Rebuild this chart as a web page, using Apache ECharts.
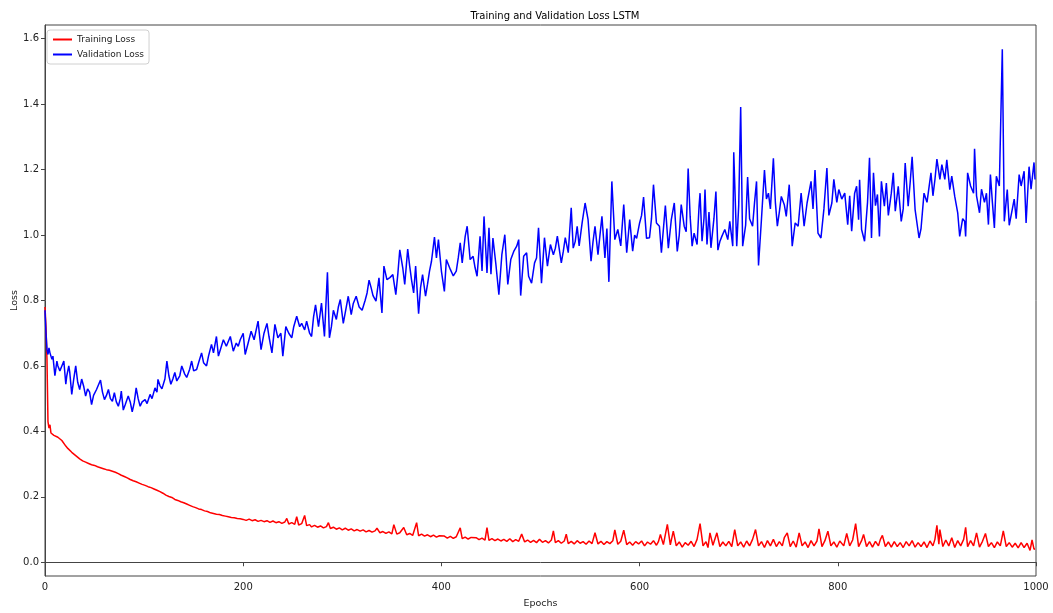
<!DOCTYPE html>
<html>
<head>
<meta charset="utf-8">
<script src="https://cdn.jsdelivr.net/npm/echarts@6/dist/echarts.min.js"></script>
<style>
  html, body { margin: 0; padding: 0; background: #fff; }
  #chart { width: 1053px; height: 613px; }
</style>
</head>
<body>
<div id="chart"></div>
<script>
// values (epoch, loss)
const trainEpochs = [0,1,2,3,4,5,6,7,9,11,13,15,17,19,21,23,25,27,29,31,33,35,38,41,44,47,50,53,56,59,62,65,68,71,74,77,80,83,86,89,92,95,98,101,104,107,110,113,116,119,122,125,128,131,134,137,140,143,146,149,152,155,158,161,164,167,170,173,176,179,182,185,188,191,194,197,
  200,203,206,209,212,215,218,221,224,227,230,233,236,239,242,244,246,249,252,254,256,259,262,264,267,269,272,275,278,281,284,286,288,291,294,297,300,303,306,309,312,315,318,321,324,327,330,333,335,338,341,344,347,350,352,355,358,360,362,365,368,371,375,377,380,383,386,389,392,395,398,
  400,403,406,409,412,415,419,421,424,427,430,432,435,438,441,444,446,448,451,454,457,460,463,466,469,472,475,478,481,484,487,490,493,496,499,502,505,508,511,513,515,518,521,524,526,528,531,534,537,540,543,546,549,552,555,558,561,564,567,570,573,575,578,581,584,587,590,593,596,599,
  602,605,608,611,614,617,619,621,624,626,628,631,634,637,640,643,646,649,652,655,658,661,664,667,669,671,674,678,681,684,687,690,693,696,699,702,705,708,711,714,717,720,723,726,729,732,735,738,741,744,746,749,752,755,758,761,764,767,770,773,776,779,781,784,787,790,793,796,799,
  802,806,809,812,815,818,821,824,826,829,832,835,838,841,843,845,848,851,854,857,860,863,866,869,872,875,878,881,884,887,890,893,896,898,900,902,903,906,909,912,915,918,921,924,927,929,931,934,937,940,943,946,949,952,955,958,961,964,967,970,973,976,979,982,985,988,991,994,996,998,999];
const trainLoss = [0.78,0.72,0.62,0.43,0.41,0.42,0.395,0.392,0.388,0.385,0.382,0.378,0.372,0.366,0.355,0.348,0.342,0.336,0.33,0.326,0.32,0.316,0.31,0.306,0.302,0.298,0.296,0.292,0.289,0.286,0.283,0.281,0.278,0.275,0.271,0.266,0.262,0.258,0.253,0.249,0.246,0.242,0.238,0.235,0.231,0.228,0.224,0.22,0.216,0.211,0.205,0.201,0.198,0.192,0.189,0.185,0.182,0.178,0.174,0.17,0.167,0.163,0.161,0.157,0.155,0.151,0.149,0.147,0.146,0.143,0.141,0.139,0.137,0.136,0.134,0.133,
  0.131,0.128,0.132,0.127,0.13,0.125,0.128,0.124,0.127,0.122,0.126,0.121,0.124,0.119,0.123,0.134,0.117,0.121,0.116,0.139,0.114,0.118,0.143,0.112,0.115,0.108,0.113,0.107,0.111,0.105,0.109,0.121,0.103,0.107,0.101,0.105,0.099,0.104,0.098,0.102,0.096,0.1,0.095,0.099,0.093,0.097,0.092,0.096,0.104,0.09,0.094,0.088,0.093,0.087,0.115,0.086,0.09,0.085,0.106,0.084,0.088,0.082,0.121,0.081,0.086,0.08,0.084,0.078,0.083,0.077,0.081,
  0.076,0.08,0.074,0.079,0.073,0.078,0.105,0.072,0.077,0.071,0.076,0.07,0.075,0.069,0.074,0.068,0.106,0.067,0.072,0.066,0.071,0.065,0.07,0.064,0.072,0.063,0.069,0.064,0.086,0.062,0.068,0.061,0.067,0.06,0.07,0.061,0.066,0.059,0.068,0.096,0.06,0.066,0.058,0.065,0.086,0.057,0.064,0.056,0.066,0.058,0.063,0.055,0.065,0.057,0.09,0.056,0.064,0.054,0.063,0.057,0.066,0.099,0.055,0.064,0.098,0.054,0.062,0.052,0.063,0.056,
  0.065,0.05,0.062,0.055,0.066,0.052,0.063,0.085,0.054,0.06,0.116,0.053,0.095,0.05,0.062,0.046,0.06,0.052,0.064,0.048,0.07,0.118,0.05,0.063,0.045,0.09,0.052,0.09,0.048,0.062,0.05,0.064,0.048,0.1,0.05,0.062,0.046,0.065,0.05,0.07,0.1,0.05,0.063,0.045,0.066,0.05,0.07,0.048,0.063,0.05,0.075,0.09,0.048,0.065,0.046,0.09,0.05,0.062,0.045,0.066,0.05,0.065,0.102,0.048,0.066,0.095,0.05,0.062,0.046,
  0.065,0.05,0.088,0.05,0.068,0.118,0.048,0.066,0.085,0.048,0.063,0.046,0.064,0.05,0.07,0.082,0.048,0.062,0.046,0.063,0.048,0.06,0.045,0.063,0.05,0.066,0.046,0.06,0.048,0.062,0.045,0.065,0.05,0.07,0.113,0.055,0.1,0.048,0.068,0.05,0.075,0.045,0.066,0.05,0.07,0.107,0.048,0.066,0.05,0.09,0.046,0.064,0.088,0.048,0.06,0.045,0.062,0.05,0.096,0.048,0.06,0.046,0.058,0.044,0.06,0.045,0.058,0.036,0.068,0.04,0.041];

const valEpochs = [0,1,2,3,4,5,7,8,10,12,13,15,17,19,21,22,24,25,27,29,31,33,35,37,39,41,43,45,47,49,52,54,56,58,60,62,64,66,68,70,72,74,76,77,79,81,83,84,86,88,90,92,94,96,98,101,103,106,108,111,113,114,116,118,121,123,125,127,129,131,133,136,138,141,143,146,148,150,153,155,158,160,163,165,168,170,173,175,178,180,183,187,190,193,195,197,
  200,202,205,208,211,215,218,221,224,226,229,232,235,238,240,243,246,249,251,254,257,259,262,264,267,269,271,273,276,279,282,285,287,289,291,294,296,298,301,304,306,309,311,314,317,320,323,325,327,329,331,334,337,340,342,345,348,351,354,356,358,361,363,366,368,370,372,374,377,379,381,384,386,388,390,393,395,397,
  400,403,405,407,409,412,415,417,419,421,424,426,429,432,434,436,439,441,443,446,448,450,452,455,458,461,464,467,470,473,476,478,480,483,486,488,491,494,496,498,501,504,507,510,513,515,517,521,523,525,528,531,533,535,537,539,542,545,548,551,553,555,558,560,562,565,567,569,572,575,578,581,584,587,590,593,595,597,
  600,602,604,607,610,612,614,617,620,622,626,629,632,635,638,640,642,645,647,649,651,653,655,658,660,661,663,665,666,668,670,672,675,677,679,681,683,686,689,691,694,695,698,700,702,704,707,709,711,714,716,718,720,723,726,728,730,732,735,737,739,741,743,746,748,751,754,757,760,763,766,769,773,775,777,780,783,786,789,791,794,796,799,
  801,804,807,810,812,814,817,819,821,822,824,827,830,832,834,836,838,840,842,844,847,849,851,854,856,858,861,864,866,868,871,873,875,878,882,884,887,890,894,896,898,900,903,905,908,910,913,915,918,921,923,926,928,929,931,934,937,938,940,943,945,948,950,952,954,956,958,960,963,966,968,971,973,976,978,980,983,985,988,990,993,995,998,999];
const valLoss = [0.77,0.70,0.65,0.635,0.655,0.64,0.62,0.63,0.57,0.615,0.60,0.585,0.60,0.615,0.544,0.57,0.60,0.58,0.513,0.56,0.60,0.55,0.528,0.56,0.538,0.508,0.53,0.52,0.482,0.51,0.528,0.53,0.557,0.52,0.497,0.51,0.528,0.50,0.492,0.518,0.49,0.477,0.50,0.523,0.465,0.482,0.50,0.508,0.49,0.46,0.487,0.533,0.50,0.477,0.49,0.497,0.485,0.513,0.50,0.533,0.52,0.559,0.54,0.53,0.56,0.615,0.57,0.544,0.56,0.58,0.554,0.57,0.60,0.575,0.565,0.59,0.615,0.585,0.589,0.61,0.64,0.61,0.60,0.63,0.666,0.64,0.69,0.63,0.66,0.68,0.66,0.69,0.645,0.67,0.66,0.68,
  0.70,0.635,0.67,0.706,0.68,0.737,0.65,0.70,0.73,0.69,0.64,0.727,0.686,0.70,0.63,0.72,0.70,0.686,0.72,0.752,0.72,0.73,0.71,0.737,0.70,0.69,0.75,0.787,0.72,0.792,0.69,0.886,0.686,0.72,0.77,0.742,0.78,0.803,0.73,0.78,0.813,0.757,0.79,0.813,0.78,0.77,0.80,0.823,0.862,0.84,0.815,0.798,0.869,0.762,0.905,0.864,0.87,0.879,0.818,0.88,0.955,0.90,0.849,0.957,0.905,0.86,0.823,0.905,0.76,0.84,0.879,0.813,0.85,0.89,0.92,0.994,0.93,0.986,
  0.89,0.828,0.925,0.91,0.895,0.875,0.89,0.93,0.976,0.915,0.996,1.027,0.925,0.935,0.90,0.874,0.996,0.89,1.057,0.884,1.022,0.88,0.991,0.91,0.818,0.94,1.001,0.849,0.925,0.95,0.966,0.986,0.815,0.935,0.946,0.874,0.853,0.915,0.93,1.022,0.853,0.992,0.905,0.971,0.94,0.96,0.997,0.915,0.95,0.992,0.946,1.083,0.96,0.98,1.027,0.967,1.037,1.098,1.047,0.92,0.98,1.027,0.94,1.00,1.057,0.93,1.02,0.857,1.164,0.986,1.017,0.967,1.093,0.946,1.047,0.951,1.00,0.99,
  1.037,1.06,1.116,0.99,0.992,1.05,1.154,1.037,1.027,0.946,1.09,0.96,1.047,1.098,0.95,1.00,1.093,1.027,1.01,1.203,1.057,0.966,1.006,0.971,1.088,1.128,0.981,1.052,1.139,0.971,1.07,0.961,1.05,1.133,0.954,0.98,0.996,1.017,0.986,1.042,0.966,1.253,0.966,1.09,1.391,0.966,1.03,1.177,1.05,1.027,1.10,1.164,0.907,1.05,1.199,1.11,1.128,1.08,1.235,1.10,1.027,1.07,1.118,1.093,1.057,1.154,0.966,1.037,1.027,1.128,1.027,1.098,1.164,1.08,1.199,1.006,0.991,1.08,1.205,1.06,1.098,1.17,1.10,
  1.139,1.11,1.128,1.032,1.12,1.012,1.128,1.149,1.047,1.169,1.017,0.981,1.10,1.236,0.991,1.19,1.09,1.124,0.996,1.164,1.088,1.159,1.06,1.128,1.19,1.073,1.149,1.042,1.08,1.22,1.088,1.16,1.239,1.078,0.991,1.02,1.128,1.10,1.19,1.12,1.169,1.232,1.17,1.215,1.17,1.23,1.139,1.18,1.118,1.068,0.996,1.05,1.042,0.996,1.19,1.15,1.128,1.264,1.12,1.068,1.14,1.10,1.128,1.032,1.185,1.10,1.022,1.18,1.15,1.568,1.042,1.139,1.03,1.078,1.11,1.05,1.185,1.15,1.195,1.037,1.209,1.14,1.222,1.17];

const xTicks = [0, 200, 400, 600, 800, 1000];
const yTicks = [0, 0.2, 0.4, 0.6, 0.8, 1.0, 1.2, 1.4, 1.6];

const chart = echarts.init(document.getElementById('chart'), null, { renderer: 'canvas' });

const pairs = (xs, ys) => xs.map((x, i) => [x, ys[i]]);
const axisColor = '#444';
const font = 'DejaVu Sans';

chart.setOption({
  animation: false,
  backgroundColor: '#fff',
  textStyle: { fontFamily: font },
  title: {
    text: 'Training and Validation Loss LSTM',
    left: 550,
    textAlign: 'center',
    top: 6,
    textStyle: { fontSize: 10, fontWeight: 'normal', color: '#000', fontFamily: font }
  },
  legend: {
    orient: 'vertical',
    left: 47,
    top: 30,
    padding: [5, 5, 5, 6],
    itemGap: 6,
    itemWidth: 19,
    itemHeight: 2,
    icon: 'rect',
    borderColor: '#d0d0d0',
    borderWidth: 1,
    borderRadius: 3,
    backgroundColor: '#fff',
    textStyle: { fontSize: 9, color: '#222', fontFamily: font },
    data: ['Training Loss', 'Validation Loss']
  },
  grid: {
    left: 45, right: 17, top: 25, bottom: 37,
    containLabel: false,
    outerBoundsMode: 'none',
    show: true, borderColor: axisColor, borderWidth: 1, backgroundColor: 'transparent'
  },
  xAxis: {
    type: 'value',
    min: 0, max: 1000,
    name: 'Epochs',
    nameLocation: 'middle',
    nameGap: 23,
    nameTextStyle: { fontSize: 9.5, color: '#222' },
    axisLine: { show: true, lineStyle: { color: axisColor } },
    axisTick: { show: true, length: 4, customValues: xTicks, lineStyle: { color: axisColor } },
    axisLabel: { fontSize: 10, color: '#222', margin: 6, customValues: xTicks, formatter: v => String(v) },
    splitLine: { show: false }
  },
  yAxis: {
    type: 'value',
    min: -0.042, max: 1.642,
    name: 'Loss',
    nameLocation: 'middle',
    nameGap: 25,
    nameMoveOverlap: false,
    nameTextStyle: { fontSize: 9.5, color: '#222' },
    axisLine: { show: true, lineStyle: { color: axisColor } },
    axisTick: { show: true, length: 4, customValues: yTicks, lineStyle: { color: axisColor } },
    axisLabel: {
      fontSize: 10, color: '#222', margin: 6,
      customValues: yTicks,
      formatter: v => v.toFixed(1)
    },
    splitLine: { show: false }
  },
  series: [
    {
      name: 'Training Loss',
      type: 'line',
      data: pairs(trainEpochs, trainLoss),
      showSymbol: false,
      color: '#ff0000',
      lineStyle: { width: 1.5, color: '#ff0000' }
    },
    {
      name: 'Validation Loss',
      type: 'line',
      data: pairs(valEpochs, valLoss),
      showSymbol: false,
      color: '#0000ff',
      lineStyle: { width: 1.5, color: '#0000ff' }
    }
  ]
});
</script>
</body>
</html>
